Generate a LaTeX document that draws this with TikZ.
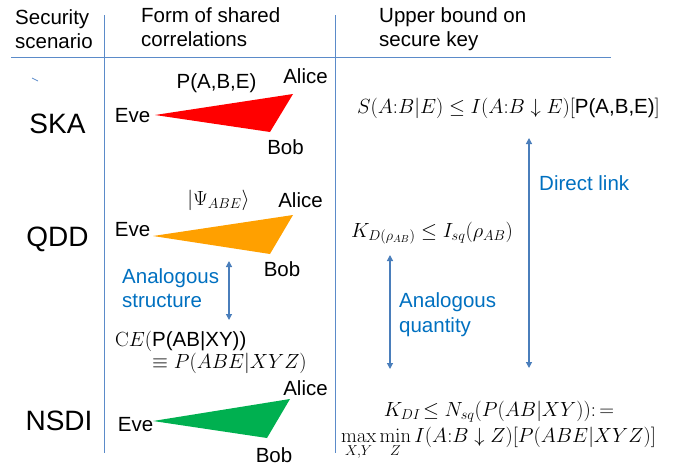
\RequirePackage{fix-cm}
\documentclass[tikz,border=0pt]{standalone}
\usepackage{amsmath}
\usepackage[no-math]{fontspec}
\setmainfont{Liberation Sans}
\usetikzlibrary{arrows.meta}
\definecolor{rulecol}{HTML}{5B8BC9}
\definecolor{arrcol}{HTML}{4A7EBB}
\definecolor{labcol}{HTML}{0070C0}
\definecolor{skacol}{HTML}{FF0000}
\definecolor{qddcol}{HTML}{FFA000}
\definecolor{nsdicol}{HTML}{00B050}
\tikzset{
  txt/.style={font=\fontsize{20.5}{24}\selectfont, inner sep=0pt, anchor=base west},
  ctxt/.style={txt, anchor=base},
  big/.style={font=\fontsize{28}{32}\selectfont, inner sep=0pt, anchor=base},
  lab/.style={txt, text=labcol},
  rulel/.style={draw=rulecol, line width=1pt},
  link/.style={draw=arrcol, line width=1.2pt, {Triangle[width=6pt,length=6pt]}-{Triangle[width=6pt,length=6pt]}},
  party/.style={fill=#1, draw=none}
}
\begin{document}
\begin{tikzpicture}[x=1pt,y=-1pt]
\useasboundingbox (0,0) rectangle (686,466);
% table rules
\coordinate (v1t) at (104,15); \coordinate (v1b) at (104,453);
\coordinate (v2t) at (335,15); \coordinate (v2b) at (335,453);
\coordinate (hl) at (11,57); \coordinate (hr) at (611,57);
\draw[rulel] (v1t) -- (v1b);
\draw[rulel] (v2t) -- (v2b);
\draw[rulel] (hl) -- (hr);
\coordinate (tk1) at (32,78); \coordinate (tk2) at (38,81);
\draw[rulecol, line width=0.8pt] (tk1) -- (tk2);
% headers
\node[txt] (h1a) at (15,24) {Security};
\node[txt] (h1b) at (15,48) {scenario};
\node[txt] (h2a) at (141,22) {Form of shared};
\node[txt] (h2b) at (141,46) {correlations};
\node[txt] (h3a) at (379,22) {Upper bound on};
\node[txt] (h3b) at (379,46) {secure key};
% scenario names
\node[big] (ska) at (57.5,133) {SKA};
\node[big] (qdd) at (57.5,246) {QDD};
\node[big] (nsdi) at (59,430) {NSDI};
% SKA triangle
\coordinate (e1) at (155,115); \coordinate (a1) at (293,94); \coordinate (b1) at (270,132);
\fill[party=skacol] (e1) -- (a1) -- (b1) -- cycle;
\node[ctxt] (pabe) at (216.5,88) {P(A,B,E)};
\node[ctxt] (alice1) at (305.5,83) {Alice};
\node[ctxt] (eve1) at (132.5,122) {Eve};
\node[ctxt] (bob1) at (285.5,154) {Bob};
% QDD triangle
\coordinate (e2) at (153,236); \coordinate (a2) at (293,215); \coordinate (b2) at (270,254);
\fill[party=qddcol] (e2) -- (a2) -- (b2) -- cycle;
\node[ctxt] (psi) at (218.5,205) {$|\Psi_{ABE}\rangle$};
\node[ctxt] (alice2) at (300.5,207) {Alice};
\node[ctxt] (eve2) at (132.5,236) {Eve};
\node[ctxt] (bob2) at (282,276) {Bob};
% analogous structure
\node[lab] (as1) at (122,283) {Analogous};
\node[lab] (as2) at (122,307) {structure};
\coordinate (ast) at (229,261); \coordinate (asb) at (229,320);
\draw[link] (ast) -- (asb);
\node[txt] (ce1) at (115,346) {$\mathrm{C}E(\text{P(AB|XY))}$};
\node[txt] (ce2) at (152,368) {$\equiv P(ABE|XYZ)$};
% NSDI triangle
\coordinate (e3) at (153,421); \coordinate (a3) at (290,399); \coordinate (b3) at (267,438);
\fill[party=nsdicol] (e3) -- (a3) -- (b3) -- cycle;
\node[ctxt] (alice3) at (305.5,395) {Alice};
\node[ctxt] (eve3) at (135.5,431) {Eve};
\node[ctxt] (bob3) at (274,462) {Bob};
% right column
\node[ctxt] (f1) at (508.5,113) {$S(A{:}B|E)\leq I(A{:}B\downarrow E)[\text{P(A,B,E)}]$};
\node[ctxt] (f2) at (432,237) {$K_{D(\rho_{AB})}\leq I_{sq}(\rho_{AB})$};
\node[ctxt] (f3) at (499,416) {$K_{DI}\!\leq N_{sq}(P(AB|XY))\mathpunct{:}=$};
\node[ctxt] (f4) at (498.5,442) {$\max\limits_{X,Y}\min\limits_{Z} I(A{:}B\downarrow Z)[P(ABE|XYZ)]$};
\coordinate (dlt) at (529,138); \coordinate (dlb) at (529,368);
\draw[link] (dlt) -- (dlb);
\node[lab] (dl) at (539,190) {Direct link};
\coordinate (aqt) at (390,255); \coordinate (aqb) at (390,369);
\draw[link] (aqt) -- (aqb);
\node[lab] (aq1) at (399,307) {Analogous};
\node[lab] (aq2) at (399,332) {quantity};
\end{tikzpicture}
\end{document}
